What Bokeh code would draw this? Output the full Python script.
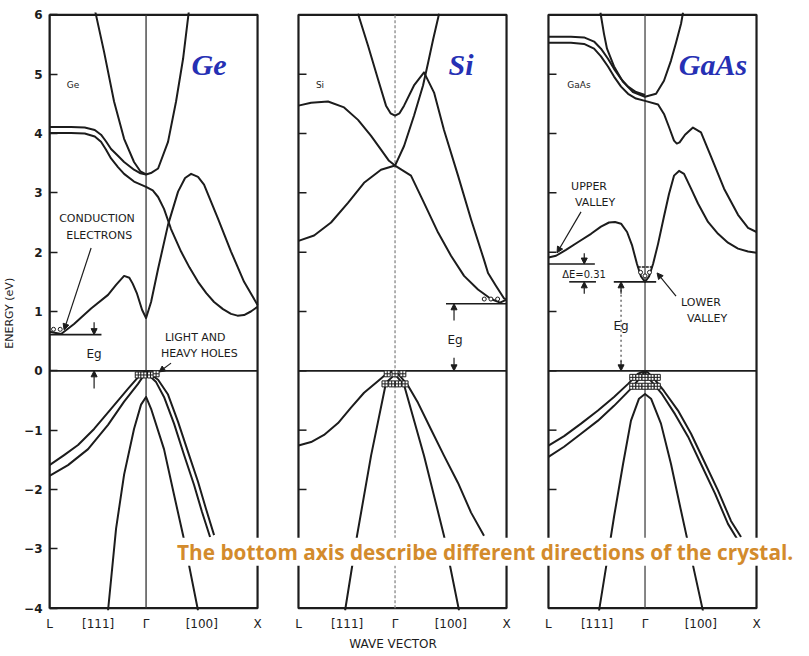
from bokeh.plotting import figure
from bokeh.models import (Range1d, FixedTicker, Label, Arrow, NormalHead, ColumnDataSource)
from bokeh.core.properties import value
from bokeh.embed import file_html
from bokeh.resources import INLINE

# ---------------------------------------------------------------- data
# wave vector k in units of 2*pi/a (L = -0.866, Gamma = 0, X = 1), energy E in eV
K_L, K_G, K_X = -0.866, 0.0, 1.0
E_MIN, E_MAX = -4, 6
y_ticks = [-4, -3, -2, -1, 0, 1, 2, 3, 4, 5, 6]
k_tick_pos = [K_L, -0.43, K_G, 0.5, K_X]
k_tick_lab = ["L", "[111]", "\u0393", "[100]", "X"]
materials = ["Ge", "Si", "GaAs"]
x_title = "WAVE  VECTOR"      # printed under the centre panel

# ---- Ge
ge_c1_k = [-0.455, -0.377, -0.287, -0.197, -0.108, -0.05, 0.0, 0.05, 0.108, 0.197, 0.269, 0.332, 0.383]
ge_c1_e = [6.05, 5.38, 4.54, 3.91, 3.52, 3.36, 3.31, 3.34, 3.41, 3.86, 4.54, 5.26, 6.05]
ge_c2_k = [-0.866, -0.673, -0.55, -0.46, -0.404, -0.36, -0.314, -0.25, -0.197, -0.108, -0.05, 0.0]
ge_c2_e = [4.11, 4.11, 4.10, 4.06, 3.98, 3.87, 3.74, 3.62, 3.52, 3.39, 3.33, 3.31]
ge_c3_k = [-0.866, -0.673, -0.55, -0.46, -0.404, -0.36, -0.314, -0.25, -0.197, -0.108, 0.0, 0.06,
           0.108, 0.161, 0.224, 0.314, 0.39, 0.466, 0.54, 0.61, 0.69, 0.762, 0.82, 0.879, 0.94, 1.0]
ge_c3_e = [4.01, 4.01, 4.00, 3.95, 3.86, 3.73, 3.58, 3.43, 3.32, 3.19, 3.10, 3.04,
           2.93, 2.73, 2.39, 2.01, 1.74, 1.50, 1.31, 1.16, 1.04, 0.96, 0.93, 0.94, 1.00, 1.08]
ge_c4_k = [-0.866, -0.762, -0.646, -0.493, -0.341, -0.269, -0.197, -0.15, -0.12, -0.081, -0.036, 0.0,
           0.045, 0.108, 0.197, 0.287, 0.35, 0.404, 0.466, 0.52, 0.646, 0.762, 0.879, 1.0]
ge_c4_e = [0.66, 0.62, 0.79, 1.05, 1.28, 1.45, 1.60, 1.57, 1.47, 1.30, 1.03, 0.89,
           1.16, 1.72, 2.46, 3.02, 3.25, 3.32, 3.27, 3.14, 2.56, 2.01, 1.50, 1.11]
ge_v1_k = [0.0, -0.045, -0.161, -0.314, -0.466, -0.61, -0.735, -0.866]
ge_v1_e = [0.0, -0.05, -0.30, -0.64, -0.98, -1.25, -1.42, -1.59]
ge_v2_k = [0.0, -0.018, -0.072, -0.197, -0.341, -0.52, -0.70, -0.866]
ge_v2_e = [0.0, -0.07, -0.22, -0.52, -0.91, -1.32, -1.59, -1.77]
ge_v3_k = [-0.341, -0.269, -0.197, -0.108, -0.045, 0.0, 0.045, 0.161, 0.251, 0.332, 0.466]
ge_v3_e = [-4.04, -2.66, -1.75, -0.98, -0.57, -0.44, -0.64, -1.32, -2.09, -2.77, -4.04]
ge_v4_k = [0.0, 0.108, 0.197, 0.287, 0.377, 0.466, 0.538, 0.61]
ge_v4_e = [0.0, -0.15, -0.40, -0.86, -1.37, -1.87, -2.33, -2.77]
ge_v5_k = [0.0, 0.09, 0.161, 0.251, 0.341, 0.43, 0.502, 0.574]
ge_v5_e = [-0.03, -0.19, -0.44, -0.89, -1.42, -1.92, -2.38, -2.80]

# ---- Si
si_c1_k = [-0.332, -0.242, -0.152, -0.081, -0.04, 0.0, 0.04, 0.081, 0.170, 0.260, 0.350, 0.439,
           0.565, 0.682, 0.798, 0.834, 0.906, 0.978, 1.0]
si_c1_e = [6.02, 5.48, 4.91, 4.47, 4.34, 4.30, 4.34, 4.47, 4.81, 5.03, 4.69, 4.06,
           3.29, 2.55, 1.87, 1.65, 1.43, 1.22, 1.20]
si_c2_k = [0.0, 0.081, 0.170, 0.251, 0.296, 0.341, 0.395]
si_c2_e = [3.46, 3.79, 4.30, 4.81, 5.19, 5.58, 6.02]
si_c3_k = [-0.866, -0.753, -0.601, -0.457, -0.332, -0.215, -0.126, -0.054, 0.0]
si_c3_e = [4.47, 4.52, 4.54, 4.44, 4.23, 3.96, 3.73, 3.54, 3.46]
si_c4_k = [-0.866, -0.726, -0.574, -0.422, -0.278, -0.126, 0.0, 0.143, 0.260, 0.386, 0.502,
           0.619, 0.744, 0.861, 0.942, 1.0]
si_c4_e = [2.19, 2.28, 2.50, 2.83, 3.17, 3.39, 3.46, 3.29, 2.83, 2.33, 1.94,
           1.60, 1.37, 1.21, 1.15, 1.20]
si_v1_k = [0.0, -0.063, -0.152, -0.278, -0.395, -0.511, -0.637, -0.753, -0.866]
si_v1_e = [0.0, -0.03, -0.17, -0.37, -0.62, -0.88, -1.08, -1.20, -1.26]
si_v2_k = [-0.448, -0.341, -0.215, -0.081, 0.0, 0.081, 0.260, 0.439, 0.574]
si_v2_e = [-4.04, -2.78, -1.43, -0.20, -0.06, -0.24, -1.43, -2.78, -4.04]
si_v3_k = [0.0, 0.036, 0.117, 0.206, 0.323, 0.439, 0.565, 0.682, 0.798]
si_v3_e = [0.0, -0.07, -0.25, -0.54, -0.99, -1.43, -1.89, -2.39, -2.78]

# ---- GaAs
ga_c1_k = [-0.40, -0.368, -0.341, -0.278, -0.197, -0.108, 0.0, 0.099, 0.170, 0.233, 0.278, 0.323, 0.341]
ga_c1_e = [6.04, 5.68, 5.43, 5.13, 4.87, 4.70, 4.62, 4.67, 4.89, 5.23, 5.53, 5.85, 6.04]
ga_c2_k = [-0.866, -0.664, -0.547, -0.457, -0.395, -0.332, -0.278, -0.215, -0.152, -0.081, 0.0]
ga_c2_e = [5.63, 5.63, 5.62, 5.55, 5.43, 5.26, 5.09, 4.92, 4.79, 4.70, 4.65]
ga_c3_k = [-0.866, -0.664, -0.547, -0.457, -0.395, -0.332, -0.278, -0.215, -0.152, -0.081, 0.0,
           0.117, 0.170, 0.215, 0.260, 0.285, 0.31, 0.359, 0.430, 0.502, 0.592, 0.709, 0.834, 0.924, 1.0]
ga_c3_e = [5.53, 5.53, 5.51, 5.43, 5.30, 5.13, 4.96, 4.79, 4.67, 4.59, 4.55,
           4.49, 4.33, 4.11, 3.88, 3.83, 3.85, 3.98, 4.10, 4.02, 3.61, 3.07, 2.63, 2.41, 2.34]
ga_c4_k = [-0.866, -0.798, -0.709, -0.592, -0.484, -0.395, -0.323, -0.269, -0.215, -0.161, -0.117,
           -0.072, -0.036, 0.0, 0.036, 0.072, 0.117, 0.170, 0.215, 0.260, 0.305, 0.350, 0.413,
           0.475, 0.565, 0.655, 0.744, 0.834, 0.924, 1.0]
ga_c4_e = [1.91, 1.94, 2.04, 2.18, 2.31, 2.43, 2.50, 2.51, 2.48, 2.34, 2.12,
           1.80, 1.59, 1.50, 1.59, 1.80, 2.14, 2.60, 2.98, 3.29, 3.37, 3.32, 3.07,
           2.82, 2.51, 2.31, 2.16, 2.06, 2.01, 1.99]
ga_v1_k = [0.0, -0.063, -0.152, -0.278, -0.422, -0.574, -0.726, -0.866]
ga_v1_e = [0.0, -0.05, -0.22, -0.44, -0.67, -0.89, -1.10, -1.26]
ga_v2_k = [0.0, -0.036, -0.126, -0.278, -0.422, -0.574, -0.726, -0.866]
ga_v2_e = [0.0, -0.10, -0.30, -0.59, -0.84, -1.06, -1.28, -1.45]
ga_v3_k = [-0.413, -0.34, -0.278, -0.197, -0.126, -0.054, 0.0, 0.054, 0.143, 0.233, 0.323, 0.386, 0.520]
ga_v3_e = [-4.05, -3.20, -2.46, -1.57, -0.84, -0.47, -0.39, -0.47, -0.89, -1.57, -2.36, -2.90, -4.05]
ga_v4_k = [0.0, 0.027, 0.081, 0.170, 0.296, 0.413, 0.529, 0.655, 0.771, 0.861]
ga_v4_e = [0.0, -0.03, -0.13, -0.34, -0.67, -1.06, -1.52, -2.02, -2.53, -2.80]
ga_v5_k = [0.0, 0.009, 0.063, 0.152, 0.269, 0.386, 0.502, 0.628, 0.744, 0.825]
ga_v5_e = [0.0, -0.07, -0.19, -0.39, -0.73, -1.11, -1.57, -2.07, -2.58, -2.83]

# ---- level lines (Eg / valley levels)
lev_mat = ["Ge", "Si", "GaAs", "GaAs", "GaAs"]
lev_k0 = [-0.866, 0.457, -0.866, -0.68, -0.28]
lev_k1 = [-0.40, 1.0, -0.45, -0.44, 0.10]
lev_e = [0.61, 1.13, 1.80, 1.50, 1.50]

# ---- annotation texts
note_mat = ["Ge", "Ge", "Ge", "Ge", "Ge", "Ge", "Si", "Si", "GaAs", "GaAs", "GaAs", "GaAs", "GaAs", "GaAs", "GaAs"]
note_txt = ["Ge", "CONDUCTION", "ELECTRONS", "Eg", "LIGHT  AND", "HEAVY  HOLES", "Si", "Eg",
            "GaAs", "UPPER", "VALLEY", "\u0394E=0.31", "LOWER", "VALLEY", "Eg"]
note_k = [-0.655, -0.44, -0.42, -0.466, 0.457, 0.493, -0.673, 0.538,
          -0.592, -0.502, -0.448, -0.547, 0.502, 0.556, -0.215]
note_e = [4.81, 2.56, 2.28, 0.29, 0.56, 0.29, 4.81, 0.52,
          4.82, 3.10, 2.83, 1.63, 1.16, 0.88, 0.76]
note_size = ["9px", "11px", "11px", "12px", "11px", "11px", "9px", "12px",
             "9px", "11px", "11px", "10px", "11px", "11px", "12px"]
title_k = [0.565, 0.592, 0.610]
title_e = [5.16, 5.17, 5.17]

# ---- arrows (start -> end)
arr_mat = ["Ge", "Ge", "GaAs", "GaAs", "Ge", "Ge", "Si", "Si", "GaAs", "GaAs", "GaAs", "GaAs"]
arr_k0 = [-0.493, 0.224, -0.574, 0.278, -0.466, -0.466, 0.529, 0.529, -0.545, -0.545, -0.215, -0.215]
arr_e0 = [2.07, 0.13, 2.68, 1.26, 0.82, -0.30, 0.85, 0.22, 1.98, 1.30, 1.30, 0.17]
arr_k1 = [-0.735, 0.117, -0.789, 0.108, -0.466, -0.466, 0.529, 0.529, -0.545, -0.545, -0.215, -0.215]
arr_e1 = [0.69, -0.02, 1.99, 1.65, 0.61, 0.0, 1.13, 0.0, 1.80, 1.50, 1.50, 0.0]

# ---- carriers
holes_mat = ["Ge"] * 4 + ["Si"] * 7 + ["GaAs"] * 10
holes_k = [-0.07, -0.02, 0.04, 0.09,
           -0.07, 0.0, 0.07, -0.09, -0.03, 0.03, 0.09,
           -0.11, -0.055, 0.0, 0.055, 0.11, -0.11, -0.055, 0.0, 0.055, 0.11]
holes_e = [-0.07, -0.07, -0.07, -0.05,
           -0.05, -0.05, -0.05, -0.22, -0.22, -0.22, -0.22,
           -0.11, -0.11, -0.11, -0.11, -0.11, -0.26, -0.26, -0.26, -0.26, -0.26]
elec_mat = ["Ge", "Ge", "Si", "Si", "Si", "GaAs", "GaAs", "GaAs"]
elec_k = [-0.83, -0.77, 0.80, 0.86, 0.92, -0.04, 0.0, 0.04]
elec_e = [0.70, 0.70, 1.21, 1.21, 1.21, 1.66, 1.60, 1.66]

note_text = "The bottom axis describe different directions of the crystal."
note_k0, note_e0 = 0.278, -3.05

# ---------------------------------------------------------------- layout
OFF = {"Ge": 0.0, "Si": 2.233, "GaAs": 4.475}   # horizontal panel offsets
INK = "#1c1c1c"
TICK_LEN = 0.072
W, H = 800, 654
PAD_L, PAD_T = 49, 12
PAD_B = H - PAD_T - round(10.08 * 59.3)


def sx(mat, ks):
    return [k + OFF[mat] for k in ks]


p = figure(width=W, height=H,
           x_range=Range1d(K_L, K_L + (W - PAD_L) / 111.5),
           y_range=Range1d(E_MIN - 0.04, E_MAX + 0.04),
           output_backend="svg", toolbar_location=None,
           min_border_left=PAD_L, min_border_right=0, min_border_top=PAD_T, min_border_bottom=PAD_B)
p.outline_line_color = None
p.grid.visible = False

# y axis (Ge panel)
ya = p.yaxis[0]
ya.ticker = FixedTicker(ticks=y_ticks)
ya.bounds = (E_MIN, E_MAX)
ya.major_tick_in = 8
ya.major_tick_out = 0
ya.minor_tick_line_color = None
ya.axis_line_width = 2
ya.axis_line_color = INK
ya.major_tick_line_width = 1.5
ya.major_tick_line_color = INK
ya.major_label_text_font = "DejaVu Sans"
ya.major_label_text_font_style = "bold"
ya.major_label_text_font_size = "12px"
ya.major_label_text_color = INK
ya.major_label_standoff = 7
ya.axis_label = "ENERGY  (eV)"
ya.axis_label_text_font = "DejaVu Sans"
ya.axis_label_text_font_style = "normal"
ya.axis_label_text_font_size = "11px"
ya.axis_label_text_color = INK
ya.axis_label_standoff = 5

# x axis: k-point labels of all three panels (title on a second line under Si Gamma)
xt, xover = [], {}
for m in materials:
    for kpos, lab in zip(k_tick_pos, k_tick_lab):
        v = kpos + OFF[m]
        xt.append(v)
        xover[v] = lab + "\n" + x_title if (m == "Si" and kpos == K_G) else lab
xa = p.xaxis[0]
xa.ticker = FixedTicker(ticks=xt)
xa.major_label_overrides = xover
xa.axis_line_color = None
xa.major_tick_line_color = None
xa.minor_tick_line_color = None
xa.major_tick_in = 0
xa.major_tick_out = 0
xa.minor_tick_in = 0
xa.minor_tick_out = 0
xa.major_label_standoff = 6
xa.major_label_text_font = "DejaVu Sans"
xa.major_label_text_font_size = "12px"
xa.major_label_text_color = INK
xa.major_label_text_line_height = 1.45

# panel frames, Gamma lines, E=0 lines, inner ticks
for m in materials:
    p.quad(left=[K_L + OFF[m]], right=[K_X + OFF[m]], bottom=[E_MIN], top=[E_MAX],
           fill_alpha=0, line_color=INK, line_width=2.2)
    p.segment(x0=sx(m, [K_L]), x1=sx(m, [K_X]), y0=[0], y1=[0], line_color=INK, line_width=1.8)
gam_dash = {"Ge": "solid", "Si": "3 2", "GaAs": "solid"}
gam_col = {"Ge": "#333333", "Si": "#888888", "GaAs": "#444444"}
for m in materials:
    p.segment(x0=sx(m, [K_G]), x1=sx(m, [K_G]), y0=[E_MIN], y1=[E_MAX],
              line_color=gam_col[m], line_width=1.3, line_dash=gam_dash[m])
for m in ["Si", "GaAs"]:
    tk = [t for t in y_ticks if E_MIN < t < E_MAX]
    p.segment(x0=sx(m, [K_L] * len(tk)), x1=sx(m, [K_L + TICK_LEN] * len(tk)), y0=tk, y1=tk,
              line_color=INK, line_width=1.5)

# bands
bands = [("Ge", ge_c1_k, ge_c1_e), ("Ge", ge_c2_k, ge_c2_e), ("Ge", ge_c3_k, ge_c3_e),
         ("Ge", ge_c4_k, ge_c4_e), ("Ge", ge_v1_k, ge_v1_e), ("Ge", ge_v2_k, ge_v2_e),
         ("Ge", ge_v3_k, ge_v3_e), ("Ge", ge_v4_k, ge_v4_e), ("Ge", ge_v5_k, ge_v5_e),
         ("Si", si_c1_k, si_c1_e), ("Si", si_c2_k, si_c2_e), ("Si", si_c3_k, si_c3_e),
         ("Si", si_c4_k, si_c4_e), ("Si", si_v1_k, si_v1_e), ("Si", si_v2_k, si_v2_e),
         ("Si", si_v3_k, si_v3_e),
         ("GaAs", ga_c1_k, ga_c1_e), ("GaAs", ga_c2_k, ga_c2_e), ("GaAs", ga_c3_k, ga_c3_e),
         ("GaAs", ga_c4_k, ga_c4_e), ("GaAs", ga_v1_k, ga_v1_e), ("GaAs", ga_v2_k, ga_v2_e),
         ("GaAs", ga_v3_k, ga_v3_e), ("GaAs", ga_v4_k, ga_v4_e), ("GaAs", ga_v5_k, ga_v5_e)]
for m, ks, es in bands:
    p.line(sx(m, ks), es, line_color=INK, line_width=2, line_join="round")

# level lines
p.segment(x0=[k + OFF[m] for m, k in zip(lev_mat, lev_k0)],
          x1=[k + OFF[m] for m, k in zip(lev_mat, lev_k1)],
          y0=lev_e, y1=lev_e, line_color=INK, line_width=1.6)
# GaAs Eg dotted dimension line and triangle top of lower valley
p.segment(x0=sx("GaAs", [-0.215]), x1=sx("GaAs", [-0.215]), y0=[1.45], y1=[0.05],
          line_color="#555555", line_width=1.3, line_dash="2 3")
p.segment(x0=sx("GaAs", [-0.065]), x1=sx("GaAs", [0.075]), y0=[1.75], y1=[1.75],
          line_color=INK, line_width=1.3, line_dash="3 1")

# carriers
p.scatter([k + OFF[m] for m, k in zip(holes_mat, holes_k)], holes_e, marker="square_cross",
          size=6, line_color=INK, fill_color="white", line_width=1)
p.scatter([k + OFF[m] for m, k in zip(elec_mat, elec_k)], elec_e, marker="circle",
          size=4, line_color=INK, fill_color="white", line_width=1)

# arrows
asrc = ColumnDataSource(dict(x0=[k + OFF[m] for m, k in zip(arr_mat, arr_k0)], y0=arr_e0,
                             x1=[k + OFF[m] for m, k in zip(arr_mat, arr_k1)], y1=arr_e1))
p.add_layout(Arrow(end=NormalHead(size=6, fill_color=INK, line_color=INK),
                   x_start="x0", y_start="y0", x_end="x1", y_end="y1", source=asrc,
                   line_color=INK, line_width=1.2))

# annotation texts
nsrc = ColumnDataSource(dict(x=[k + OFF[m] for m, k in zip(note_mat, note_k)], y=note_e,
                             t=note_txt, s=note_size))
p.text(x="x", y="y", text="t", source=nsrc, text_font=value("DejaVu Sans"),
       text_font_size="s", text_color=INK, text_align="center", text_baseline="middle")

# big coloured material names
p.text(x=[k + OFF[m] for m, k in zip(materials, title_k)], y=title_e, text=materials,
       text_font=value("Liberation Serif"), text_font_style="bold italic",
       text_font_size="30px", text_color="#2630b4", text_align="center", text_baseline="middle")

# overlay note with white background
p.add_layout(Label(x=note_k0, y=note_e0, text=note_text, text_font="Open Sans",
                   text_font_style="bold", text_font_size="20.8px", text_color="#d38b2c",
                   text_align="left", text_baseline="middle",
                   background_fill_color="white", background_fill_alpha=1.0))

open("out.html", "w").write(file_html(p, INLINE))
